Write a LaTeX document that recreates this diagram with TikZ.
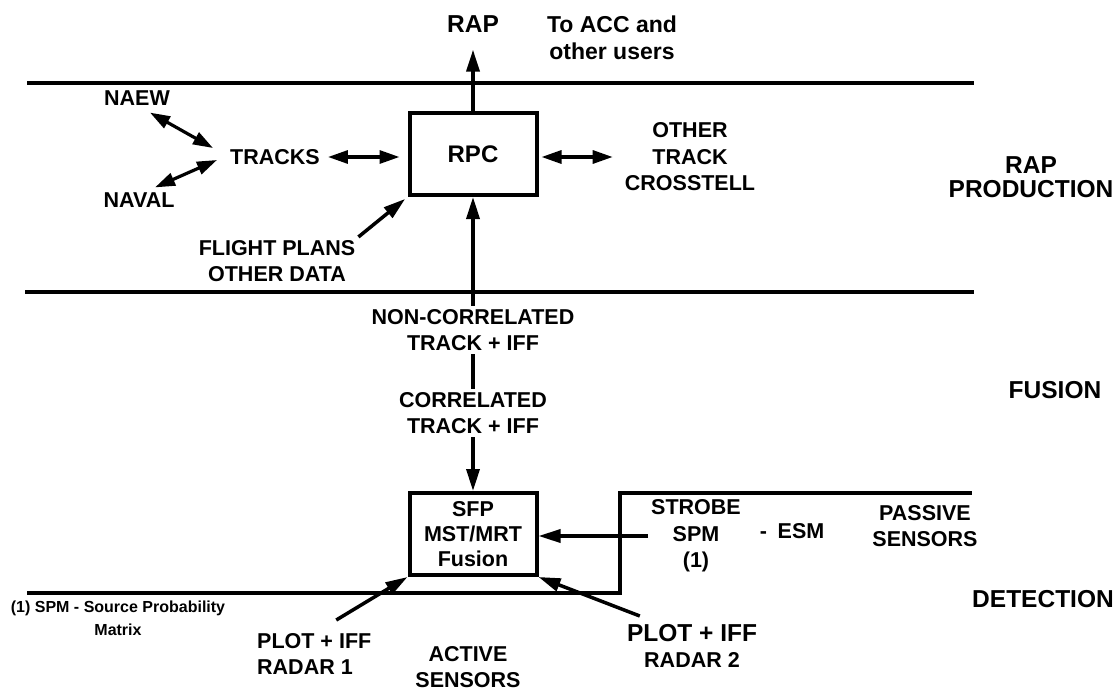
\documentclass[tikz,border=0pt]{standalone}
\usepackage{fontspec}
\setmainfont{Liberation Sans}
\usepackage{tikz}
\usetikzlibrary{arrows.meta,positioning,calc}
\definecolor{corpreto}{RGB}{0,0,0}

\begin{document}
\begin{tikzpicture}[
  x=1pt, y=-1pt,
  rotulo/.style={align=center, inner sep=3pt, text=corpreto,
                 font=\fontsize{21.5}{26.5}\selectfont\bfseries},
  rotulogrande/.style={rotulo, font=\fontsize{24.5}{23.5}\selectfont\bfseries},
  caixa/.style={rectangle, draw=corpreto, line width=4pt, rotulo,
                minimum width=127pt, minimum height=82pt},
  faixa/.style={draw=corpreto, line width=3.5pt},
  linha/.style={draw=corpreto, line width=3.5pt},
  seta/.style={-{Triangle[length=22pt,width=13pt]}, line width=3.5pt, draw=corpreto},
  setadupla/.style={{Triangle[length=20pt,width=13pt]}-{Triangle[length=20pt,width=13pt]},
                    line width=3.2pt, draw=corpreto}
]
  \useasboundingbox (0,0) rectangle (1117,691);

  % faixas
  \draw[faixa] (27,83) -- (974,83);
  \draw[faixa] (25,292) -- (974,292);
  \draw[faixa] (27,593) -- (620,593) -- (620,493) -- (972,493);

  % caixas
  \node[caixa, font=\fontsize{24}{26}\selectfont\bfseries] (rpc) at (473,154) {RPC};
  \node[caixa, font=\fontsize{21.5}{25}\selectfont\bfseries] (sfp) at (473,534) {SFP\\MST/MRT\\Fusion};

  % rotulos
  \node[rotulogrande] (rap) at (473,24) {RAP};
  \node[rotulo, font=\fontsize{23}{27}\selectfont\bfseries] (usuarios) at (612,38) {To ACC and\\other users};
  \node[rotulo] (naew) at (137,98) {NAEW};
  \node[rotulo] (naval) at (139,200) {NAVAL};
  \node[rotulo] (tracks) at (275,157) {TRACKS};
  \node[rotulo] (crosstell) at (690,157) {OTHER\\TRACK\\CROSSTELL};
  \node[rotulo] (planos) at (277,261) {FLIGHT PLANS\\OTHER DATA};
  \node[rotulo] (naocorr) at (473,330) {NON-CORRELATED\\TRACK + IFF};
  \node[rotulo] (corr) at (473,413) {CORRELATED\\TRACK + IFF};
  \node[rotulo] (strobe) at (696,536) {STROBE\\SPM\\(1)};
  \node[rotulo] (esm) at (792,531) {-\hspace{0.5em}ESM};
  \node[rotulo] (passivos) at (925,526) {PASSIVE\\SENSORS};
  \node[rotulo, align=left, anchor=west] (radar1) at (254,654) {PLOT + IFF\\RADAR 1};
  \node[rotulo] (radar2) at (692,646) {{\fontsize{24.5}{28}\selectfont PLOT + IFF}\\RADAR 2};
  \node[rotulo] (ativos) at (468,667) {ACTIVE\\SENSORS};
  \node[rotulo, font=\fontsize{16}{23}\selectfont\bfseries] (nota) at (118,618) {(1) SPM - Source Probability\\Matrix};
  \node[rotulogrande] (producao) at (1031,177) {RAP\\PRODUCTION};
  \node[rotulogrande] (fusao) at (1055,390) {FUSION};
  \node[rotulogrande] (deteccao) at (1043,599) {DETECTION};

  % conexoes
  \draw[seta, shorten >=14pt] (rpc) -- (rap);
  \draw[setadupla] ($(naew.south)+(13,4)$) -- ($(tracks.west)+(-14,-9)$);
  \draw[setadupla] ($(naval.north)+(16,-2)$) -- ($(tracks.west)+(-10,3)$);
  \draw[setadupla, shorten <=5pt, shorten >=8pt] (tracks.east) -- (tracks.east -| rpc.west);
  \draw[setadupla, shorten <=3pt, shorten >=9pt] (crosstell.west -| rpc.east) -- (crosstell.west);
  \draw[seta, shorten >=3pt] (planos.north east) -- (rpc.south west);
  \draw[seta] (naocorr) -- (rpc);
  \draw[linha] (naocorr) -- (corr);
  \draw[seta] (corr) -- (sfp);
  \draw[seta] (strobe.west) -- (strobe.west -| sfp.east);
  \draw[seta] ($(radar1.north)+(22,-10)$) -- (sfp.south west);
  \draw[seta] ($(radar2.north west)+(16,-5)$) -- (sfp.south east);
\end{tikzpicture}
\end{document}
